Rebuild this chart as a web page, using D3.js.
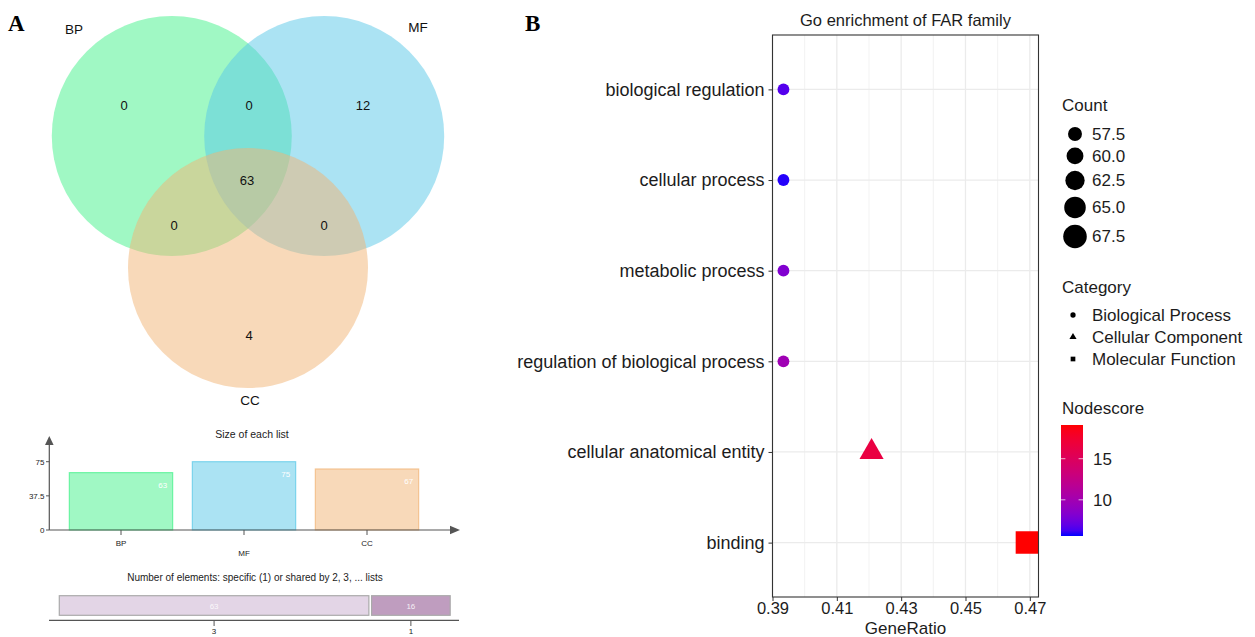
<!DOCTYPE html>
<html><head><meta charset="utf-8">
<script src="https://cdn.jsdelivr.net/npm/d3@7"></script>
<style>body{margin:0;background:#fff} text{font-family:"Liberation Sans",Arial,sans-serif}</style>
</head><body><svg id="c" width="1255" height="637"></svg>
<script>
// ---------- Panel A data ----------
const vennSets = ["BP", "MF", "CC"];
const vennColors = ["#41f189", "#57c7e7", "#f1b373"];
const vennRegions = ["BP", "BP&MF", "MF", "BP&MF&CC", "BP&CC", "MF&CC", "CC"];
const vennCounts = [0, 0, 12, 63, 0, 0, 4];
const listSizes = [63, 75, 67];
const sizeTicks = [0, 37.5, 75];
const sharedLabels = ["3", "1"];
const sharedCounts = [63, 16];
const sharedColors = ["#e3d5e6", "#bf9dbf"];
// ---------- Panel B data ----------
const terms = ["biological regulation", "cellular process", "metabolic process",
  "regulation of biological process", "cellular anatomical entity", "binding"];
const geneRatio = [0.3934, 0.3934, 0.3934, 0.3934, 0.4208, 0.4691];
const counts = [56, 56, 56, 56, 61, 70];
const nodescore = [6.6, 5.8, 8.2, 9.8, 16.5, 19.1];
const termCategory = ["Biological Process", "Biological Process", "Biological Process",
  "Biological Process", "Cellular Component", "Molecular Function"];
const categories = ["Biological Process", "Cellular Component", "Molecular Function"];
const xTicks = [0.39, 0.41, 0.43, 0.45, 0.47];
const xMinor = [0.40, 0.42, 0.44, 0.46];
const countBreaks = [57.5, 60, 62.5, 65, 67.5];
const nodeBreaks = [10, 15];
const nodeRange = [5.6, 19.1];

const svg = d3.select("#c");
svg.append("rect").attr("width", 1255).attr("height", 637).attr("fill", "#fff");

// panel letters
svg.append("text").attr("x", 8).attr("y", 31).text("A")
  .style("font-family", "'Liberation Serif','Times New Roman',serif").style("font-weight", "bold").style("font-size", "23px");
svg.append("text").attr("x", 525).attr("y", 31).text("B")
  .style("font-family", "'Liberation Serif','Times New Roman',serif").style("font-weight", "bold").style("font-size", "23px");

// ---------- Venn ----------
const vc = {x: 248, y: 180}, vDist = 88, vR = 120;
const vAngles = [-150, -30, 90];
const vg = svg.append("g");
vennSets.forEach((s, i) => {
  const a = vAngles[i] * Math.PI / 180;
  vg.append("circle").attr("cx", vc.x + vDist * Math.cos(a)).attr("cy", vc.y + vDist * Math.sin(a))
    .attr("r", vR).attr("fill", vennColors[i]).attr("fill-opacity", 0.5);
});
const setLabelPos = {BP: [74, 29], MF: [418, 27], CC: [250, 400]};
vennSets.forEach(s => {
  vg.append("text").attr("x", setLabelPos[s][0]).attr("y", setLabelPos[s][1]).attr("dy", "0.35em")
    .attr("text-anchor", "middle").style("font-size", "13.5px").attr("fill", "#111").text(s);
});
const regionOffset = {"BP": [-124, -75], "BP&MF": [1, -75], "MF": [115, -75], "BP&MF&CC": [-1, 0],
  "BP&CC": [-74, 45], "MF&CC": [76, 45], "CC": [1, 155]};
vennRegions.forEach((r, i) => {
  vg.append("text").attr("x", vc.x + regionOffset[r][0]).attr("y", vc.y + regionOffset[r][1]).attr("dy", "0.35em")
    .attr("text-anchor", "middle").style("font-size", "13px").attr("fill", "#111").text(vennCounts[i]);
});

// ---------- Size of each list ----------
const bg = svg.append("g");
const axCol = "#555";
const bx = d3.scaleBand().domain(vennSets).range([59.5, 428.5]).paddingInner(0.16).paddingOuter(0.08);
const by = d3.scaleLinear().domain([0, 75]).range([530, 461.7]);
bg.append("text").attr("x", 252).attr("y", 434).attr("dy", "0.35em").attr("text-anchor", "middle")
  .style("font-size", "10.5px").attr("fill", "#222").text("Size of each list");
vennSets.forEach((s, i) => {
  bg.append("rect").attr("x", bx(s)).attr("y", by(listSizes[i])).attr("width", bx.bandwidth())
    .attr("height", by(0) - by(listSizes[i])).attr("fill", vennColors[i]).attr("fill-opacity", 0.5)
    .attr("stroke", vennColors[i]).attr("stroke-opacity", 0.7).attr("stroke-width", 1.2);
  bg.append("text").attr("x", bx(s) + bx.bandwidth() - 5.5).attr("y", by(listSizes[i]) + 12.5).attr("dy", "0.35em")
    .attr("text-anchor", "end").style("font-size", "8px").attr("fill", "#fff").text(listSizes[i]);
  const cx = bx(s) + bx.bandwidth() / 2;
  bg.append("line").attr("x1", cx).attr("x2", cx).attr("y1", 530).attr("y2", 535).attr("stroke", axCol);
  bg.append("text").attr("x", cx).attr("y", i % 2 ? 553 : 543).attr("dy", "0.35em").attr("text-anchor", "middle")
    .style("font-size", "8px").attr("fill", "#222").text(s);
});
bg.append("line").attr("x1", 49.3).attr("x2", 49.3).attr("y1", 530).attr("y2", 444).attr("stroke", axCol).attr("stroke-width", 1.2);
bg.append("path").attr("d", "M49.3,436 L45,445 L53.6,445 Z").attr("fill", axCol);
bg.append("line").attr("x1", 49.3).attr("x2", 452).attr("y1", 530).attr("y2", 530).attr("stroke", axCol).attr("stroke-width", 1.2);
bg.append("path").attr("d", "M460,530 L450,525.7 L450,534.3 Z").attr("fill", axCol);
sizeTicks.forEach(t => {
  bg.append("line").attr("x1", 46).attr("x2", 49.3).attr("y1", by(t)).attr("y2", by(t)).attr("stroke", axCol);
  bg.append("text").attr("x", 44.5).attr("y", by(t)).attr("dy", "0.35em").attr("text-anchor", "end")
    .style("font-size", "8px").attr("fill", "#222").text(t);
});

// ---------- Number of elements ----------
const sg = svg.append("g");
sg.append("text").attr("x", 255).attr("y", 577).attr("dy", "0.35em").attr("text-anchor", "middle")
  .style("font-size", "10px").attr("fill", "#222").text("Number of elements: specific (1) or shared by 2, 3, ... lists");
const total = d3.sum(sharedCounts);
const sx = d3.scaleLinear().domain([0, total]).range([59.3, 447.5]);
let acc = 0;
sharedCounts.forEach((v, i) => {
  const gap = i * 2.7;
  const x0 = sx(acc) + gap, x1 = sx(acc + v) + gap;
  sg.append("rect").attr("x", x0).attr("y", 595.7).attr("width", x1 - x0).attr("height", 19.6)
    .attr("fill", sharedColors[i]).attr("stroke", "#aaa").attr("stroke-width", 1.2);
  const cx = (x0 + x1) / 2;
  sg.append("text").attr("x", cx).attr("y", 606).attr("dy", "0.35em").attr("text-anchor", "middle")
    .style("font-size", "8px").attr("fill", "#fff").attr("fill-opacity", 0.85).text(v);
  sg.append("line").attr("x1", cx).attr("x2", cx).attr("y1", 620.3).attr("y2", 626).attr("stroke", axCol);
  sg.append("text").attr("x", cx).attr("y", 631.5).attr("dy", "0.35em").attr("text-anchor", "middle")
    .style("font-size", "8px").attr("fill", "#222").text(sharedLabels[i]);
  acc += v;
});
sg.append("line").attr("x1", 49).attr("x2", 459).attr("y1", 620.3).attr("y2", 620.3).attr("stroke", axCol).attr("stroke-width", 1.2);

// ---------- Panel B ----------
const P = {l: 772.5, r: 1038.5, t: 35, b: 597};
const x = d3.scaleLinear().domain([0.39, 0.4727]).range([P.l, P.r]);
const y = d3.scalePoint().domain(terms).range([P.t, P.b]).padding(0.6);
const color = d3.scaleLinear().domain(nodeRange).range(["blue", "red"]).interpolate(d3.interpolateLab);
const area = d3.scaleLinear().domain([56, 70]).range([110, 506]);
const shapeOf = {"Biological Process": d3.symbolCircle, "Cellular Component": d3.symbolTriangle, "Molecular Function": d3.symbolSquare};
const txt = "#1c1c1c";

const pg = svg.append("g");
svg.append("defs").append("clipPath").attr("id", "pclip").append("rect")
  .attr("x", P.l).attr("y", P.t).attr("width", P.r - P.l).attr("height", P.b - P.t);
xMinor.forEach(v => pg.append("line").attr("x1", x(v)).attr("x2", x(v)).attr("y1", P.t).attr("y2", P.b)
  .attr("stroke", "#ededed").attr("stroke-width", 0.7));
xTicks.forEach(v => pg.append("line").attr("x1", x(v)).attr("x2", x(v)).attr("y1", P.t).attr("y2", P.b)
  .attr("stroke", "#ebebeb").attr("stroke-width", 1.3));
terms.forEach(t => pg.append("line").attr("x1", P.l).attr("x2", P.r).attr("y1", y(t)).attr("y2", y(t))
  .attr("stroke", "#ebebeb").attr("stroke-width", 1.3));

const mg = pg.append("g").attr("clip-path", "url(#pclip)");
terms.forEach((t, i) => {
  mg.append("path").attr("d", d3.symbol().type(shapeOf[termCategory[i]]).size(area(counts[i]))())
    .attr("transform", `translate(${x(geneRatio[i])},${y(t)})`).attr("fill", color(nodescore[i]));
});
pg.append("rect").attr("x", P.l).attr("y", P.t).attr("width", P.r - P.l).attr("height", P.b - P.t)
  .attr("fill", "none").attr("stroke", "#333").attr("stroke-width", 1.1);

const xa = pg.append("g").attr("transform", `translate(0,${P.b})`)
  .call(d3.axisBottom(x).tickValues(xTicks).tickSize(4).tickSizeOuter(0).tickPadding(1.5).tickFormat(d3.format(".2f")));
xa.select(".domain").remove();
xa.selectAll("line").attr("stroke", "#333");
xa.selectAll("text").style("font-size", "16.5px").attr("fill", txt);
const ya = pg.append("g").attr("transform", `translate(${P.l},0)`)
  .call(d3.axisLeft(y).tickSize(4).tickSizeOuter(0).tickPadding(4));
ya.select(".domain").remove();
ya.selectAll("line").attr("stroke", "#333");
ya.selectAll("text").style("font-size", "18px").attr("fill", txt);

pg.append("text").attr("x", (P.l + P.r) / 2).attr("y", 20).attr("dy", "0.35em").attr("text-anchor", "middle")
  .style("font-size", "16.5px").attr("fill", txt).text("Go enrichment of FAR family");
pg.append("text").attr("x", (P.l + P.r) / 2).attr("y", 633.5).attr("text-anchor", "middle")
  .style("font-size", "17px").attr("fill", txt).text("GeneRatio");

// ---------- Legends ----------
const lg = svg.append("g");
const lx = 1062;
lg.append("text").attr("x", lx).attr("y", 105).attr("dy", "0.35em").style("font-size", "17px").attr("fill", txt).text("Count");
let cy = 134;
countBreaks.forEach((v, i) => {
  const a = area(v), d = Math.sqrt(a / Math.PI) * 2;
  if (i > 0) {
    const dp = Math.sqrt(area(countBreaks[i - 1]) / Math.PI) * 2;
    cy += (dp + 6.5) / 2 + (d + 6.5) / 2;
  }
  lg.append("path").attr("d", d3.symbol().type(d3.symbolCircle).size(a)()).attr("transform", `translate(1075,${cy})`).attr("fill", "#000");
  lg.append("text").attr("x", 1092).attr("y", cy).attr("dy", "0.35em").style("font-size", "17px").attr("fill", txt).text(d3.format(".1f")(v));
});
lg.append("text").attr("x", lx).attr("y", 287).attr("dy", "0.35em").style("font-size", "17px").attr("fill", txt).text("Category");
categories.forEach((c, i) => {
  const yy = 315 + i * 22;
  lg.append("path").attr("d", d3.symbol().type(shapeOf[c]).size(22)()).attr("transform", `translate(1073,${yy})`).attr("fill", "#000");
  lg.append("text").attr("x", 1092).attr("y", yy).attr("dy", "0.35em").style("font-size", "17px").attr("fill", txt).text(c);
});
lg.append("text").attr("x", lx).attr("y", 408).attr("dy", "0.35em").style("font-size", "17px").attr("fill", txt).text("Nodescore");
const grad = svg.select("defs").append("linearGradient").attr("id", "ns").attr("x1", 0).attr("y1", 1).attr("x2", 0).attr("y2", 0);
d3.range(0, 1.0001, 0.05).forEach(t => {
  grad.append("stop").attr("offset", t).attr("stop-color", color(nodeRange[0] + t * (nodeRange[1] - nodeRange[0])));
});
const cb = d3.scaleLinear().domain(nodeRange).range([536, 425]);
lg.append("rect").attr("x", 1061).attr("y", 425).attr("width", 22).attr("height", 111).attr("fill", "url(#ns)");
nodeBreaks.forEach(v => {
  lg.append("line").attr("x1", 1061).attr("x2", 1065.4).attr("y1", cb(v)).attr("y2", cb(v)).attr("stroke", "#fff").attr("stroke-opacity", 0.7);
  lg.append("line").attr("x1", 1078.6).attr("x2", 1083).attr("y1", cb(v)).attr("y2", cb(v)).attr("stroke", "#fff").attr("stroke-opacity", 0.7);
  lg.append("text").attr("x", 1093).attr("y", cb(v)).attr("dy", "0.35em").style("font-size", "17px").attr("fill", txt).text(v);
});
</script></body></html>
